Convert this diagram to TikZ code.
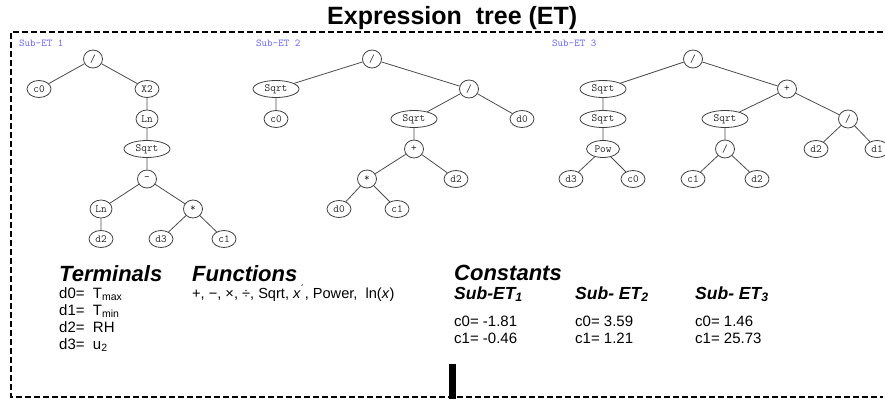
\documentclass[tikz,border=0pt]{standalone}
\usepackage{fontspec}
\setmainfont{Liberation Sans}
\usetikzlibrary{shapes.geometric}

\begin{document}
\begin{tikzpicture}[
		x=1pt, y=-1pt,
		op/.style={ellipse,draw=black!75,line width=0.8pt,inner sep=0pt,minimum width=19pt,minimum height=18pt,text=black!85,font=\ttfamily\fontsize{11}{11}\selectfont},
		lf/.style={op,minimum width=24pt,minimum height=17pt},
		wide/.style={op,minimum width=46pt,minimum height=17pt},
		mid/.style={op,minimum width=33pt,minimum height=17pt},
		edge/.style={draw=black!70,line width=0.8pt},
		tag/.style={anchor=base west,inner sep=0pt,text=blue!60,font=\ttfamily\fontsize{10.5}{11}\selectfont},
		head/.style={anchor=base west,inner sep=0pt,font=\fontsize{22}{24}\selectfont\bfseries\itshape},
		sub/.style={anchor=base west,inner sep=0pt,font=\fontsize{17.5}{20}\selectfont\bfseries\itshape},
		txt/.style={anchor=base west,inner sep=0pt,font=\fontsize{15}{17}\selectfont},
		border/.style={line width=1.6pt,dash pattern=on 6pt off 3pt}]
	\useasboundingbox (0,0) rectangle (885,401);
	%% frame and title
	\draw[border] (883,32) -- (11,32) -- (11,397) -- (883,397);
	\node (title) at (327,25) [anchor=base west,inner sep=0pt,font=\fontsize{25}{28}\selectfont\bfseries] {Expression\ \ tree (ET)};
	\fill (449,364) rectangle (456,399);
	%% sub-ET 1
	\node (tag1) at (19,47) [tag] {Sub-ET 1};
	\node (t1a) at (93,59) [op] {/};
	\node (t1b) at (39,89) [lf] {c0};
	\node (t1c) at (147,89) [lf] {X2};
	\node (t1d) at (147,119) [op,minimum width=22pt] {Ln};
	\node (t1e) at (147,149) [wide] {Sqrt};
	\node (t1f) at (147,179) [op] {-};
	\node (t1g) at (101,209) [op,minimum width=22pt] {Ln};
	\node (t1h) at (193,209) [op] {*};
	\node (t1i) at (101,239) [lf] {d2};
	\node (t1j) at (161,239) [lf] {d3};
	\node (t1k) at (224,239) [lf] {c1};
	\draw[edge] (t1a) -- (t1b) (t1a) -- (t1c) (t1c) -- (t1d) (t1d) -- (t1e) (t1e) -- (t1f);
	\draw[edge] (t1f) -- (t1g) (t1f) -- (t1h) (t1g) -- (t1i) (t1h) -- (t1j) (t1h) -- (t1k);
	%% sub-ET 2
	\node (tag2) at (256,47) [tag] {Sub-ET 2};
	\node (t2a) at (372,59) [op] {/};
	\node (t2b) at (276,89) [wide] {Sqrt};
	\node (t2c) at (276,119) [lf] {c0};
	\node (t2d) at (469,89) [op] {/};
	\node (t2e) at (414,119) [wide] {Sqrt};
	\node (t2f) at (522,119) [lf] {d0};
	\node (t2g) at (414,149) [op] {+};
	\node (t2h) at (367,179) [op] {*};
	\node (t2i) at (456,179) [lf] {d2};
	\node (t2j) at (339,209) [lf] {d0};
	\node (t2k) at (397,209) [lf] {c1};
	\draw[edge] (t2a) -- (t2b) (t2a) -- (t2d) (t2b) -- (t2c) (t2d) -- (t2e) (t2d) -- (t2f);
	\draw[edge] (t2e) -- (t2g) (t2g) -- (t2h) (t2g) -- (t2i) (t2h) -- (t2j) (t2h) -- (t2k);
	%% sub-ET 3
	\node (tag3) at (552,47) [tag] {Sub-ET 3};
	\node (t3a) at (693,59) [op] {/};
	\node (t3b) at (603,89) [wide] {Sqrt};
	\node (t3c) at (603,119) [wide] {Sqrt};
	\node (t3d) at (603,149) [mid] {Pow};
	\node (t3e) at (571,179) [lf] {d3};
	\node (t3f) at (633,179) [lf] {c0};
	\node (t3g) at (787,89) [op] {+};
	\node (t3h) at (725,119) [wide] {Sqrt};
	\node (t3i) at (725,149) [op] {/};
	\node (t3j) at (693,179) [lf] {c1};
	\node (t3k) at (757,179) [lf] {d2};
	\node (t3l) at (848,119) [op] {/};
	\node (t3m) at (816,149) [lf] {d2};
	\node (t3n) at (877,149) [lf] {d1};
	\draw[edge] (t3a) -- (t3b) (t3a) -- (t3g) (t3b) -- (t3c) (t3c) -- (t3d) (t3d) -- (t3e) (t3d) -- (t3f);
	\draw[edge] (t3g) -- (t3h) (t3g) -- (t3l) (t3h) -- (t3i) (t3i) -- (t3j) (t3i) -- (t3k);
	\draw[edge] (t3l) -- (t3m) (t3l) -- (t3n);
	%% terminals
	\node (term) at (59,281) [head] {Terminals};
	\node (d0) at (59,298) [txt] {d0=\ \ T\textsubscript{max}};
	\node (d1) at (59,315) [txt] {d1=\ \ T\textsubscript{min}};
	\node (d2) at (59,332) [txt] {d2=\ \ RH};
	\node (d3) at (59,349) [txt] {d3=\ \ u\textsubscript{2}};
	%% functions
	\node (func) at (192,281) [head] {Functions};
	\node (flist) at (192,298) [txt,font=\fontsize{14.6}{17}\selectfont] {+, −, ×, ÷, Sqrt, \textit{x}\textsuperscript{´}, Power,\ \ ln(\textit{x})};
	%% constants
	\node (const) at (454,280) [head] {Constants};
	\node (s1) at (454,299) [sub] {Sub-ET\textsubscript{1}};
	\node (s2) at (575,299) [sub] {Sub- ET\textsubscript{2}};
	\node (s3) at (695,299) [sub] {Sub- ET\textsubscript{3}};
	\node (s1c0) at (454,326) [txt] {c0= -1.81};
	\node (s1c1) at (454,343) [txt] {c1= -0.46};
	\node (s2c0) at (575,326) [txt] {c0= 3.59};
	\node (s2c1) at (575,343) [txt] {c1= 1.21};
	\node (s3c0) at (695,326) [txt] {c0= 1.46};
	\node (s3c1) at (695,343) [txt] {c1= 25.73};
\end{tikzpicture}
\end{document}
